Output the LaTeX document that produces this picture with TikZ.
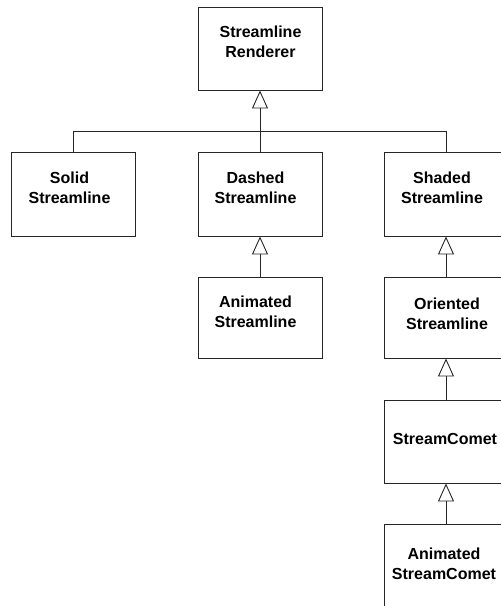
\documentclass[tikz,border=0pt]{standalone}
\usepackage{fontspec}
\setmainfont{Liberation Sans}
\usetikzlibrary{arrows.meta}

% two centred lines whose first baseline is the node's baseline
\newcommand{\twolines}[2]{\begin{tabular}[t]{@{}c@{}}#1\\#2\end{tabular}}

\begin{document}
\begin{tikzpicture}[x=1pt, y=-1pt,
  cls/.style={draw=black!85, line width=0.9pt, fill=white, rectangle,
              minimum width=124pt, inner sep=0pt},
  lbl/.style={anchor=base, inner sep=0pt,
              font=\bfseries\fontsize{16}{20}\selectfont},
  link/.style={draw=black!85, line width=0.9pt},
  inherit/.style={link, -{Triangle[open, length=18pt, width=16pt, line width=0.9pt]}}
]
\useasboundingbox (0,0) rectangle (501,606);
\clip (0,0) rectangle (501,606);

% class boxes
\node[cls, minimum height=83pt] (ren)      at (260, 48.5)   {};
\node[cls, minimum height=84pt] (solid)    at (73.5, 194)   {};
\node[cls, minimum height=84pt] (dashed)   at (260, 194)    {};
\node[cls, minimum height=84pt] (shaded)   at (446, 194)    {};
\node[cls, minimum height=81pt] (animsl)   at (260, 317.5)  {};
\node[cls, minimum height=81pt] (oriented) at (446, 317.5)  {};
\node[cls, minimum height=83pt] (comet)    at (446, 441.5)  {};
\node[cls, minimum height=100pt] (animcomet) at (446, 574)  {};

% class names
\node[lbl] (renT)       at (260.5, 37.7)  {\twolines{Streamline}{Renderer}};
\node[lbl] (solidT)     at (69.5, 183.3)  {\twolines{Solid}{Streamline}};
\node[lbl] (dashedT)    at (255.5, 183.3) {\twolines{Dashed}{Streamline}};
\node[lbl] (shadedT)    at (442, 183.3)   {\twolines{Shaded}{Streamline}};
\node[lbl] (animslT)    at (255.5, 307.3) {\twolines{Animated}{Streamline}};
\node[lbl] (orientedT)  at (447, 309)     {\twolines{Oriented}{Streamline}};
\node[lbl] (cometT)     at (445, 444)     {StreamComet};
\node[lbl] (animcometT) at (444, 559)     {\twolines{Animated}{StreamComet}};

% inheritance tree below the renderer
\coordinate (hub) at (260, 131);
\draw[link] (solid.north) |- (hub);
\draw[link] (shaded.north) |- (hub);
\draw[link] (dashed.north) -- (hub);
\draw[inherit] (hub) -- (ren.south);

\draw[inherit] (animsl.north) -- (dashed.south);
\draw[inherit] (oriented.north) -- (shaded.south);
\draw[inherit] (comet.north) -- (oriented.south);
\draw[inherit] (animcomet.north) -- (comet.south);
\end{tikzpicture}
\end{document}
